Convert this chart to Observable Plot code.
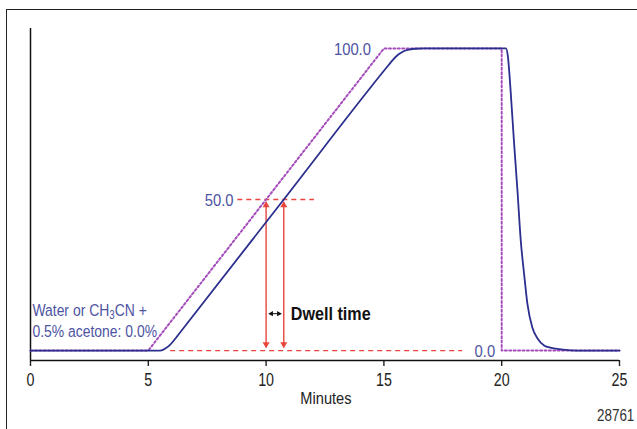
<!DOCTYPE html>
<html>
<head>
<meta charset="utf-8">
<script src="https://cdn.jsdelivr.net/npm/d3@7"></script>
<script src="https://cdn.jsdelivr.net/npm/@observablehq/plot@0.6"></script>
<style>
  html, body { margin: 0; padding: 0; background: #fff; }
  #wrap { position: relative; width: 637px; height: 429px; overflow: hidden; }
  #frame { position: absolute; left: 6px; top: 9px; width: 700px; height: 500px;
           border-left: 1.6px solid #222; border-top: 1.6px solid #222; box-sizing: border-box; }
  #chart { position: absolute; left: 0; top: 0; }
</style>
</head>
<body>
<div id="wrap"><div id="frame"></div><div id="chart"></div></div>
<script>
// ---- data ----
// programmed gradient (dotted)
const programTime  = [0, 5, 15, 20, 20, 25];
const programValue = [0, 0, 100, 100, 0, 0];
// measured response (solid)
const responseTime  = [0, 5.5, 5.62, 5.75, 5.9, 6.05, 6.2, 10.75, 15.2, 15.4, 15.6, 15.8, 16.0, 16.3, 16.7, 20.18, 20.26, 20.38, 20.52, 20.67, 20.81, 20.95, 21.09, 21.3, 21.52, 21.8, 22.1, 22.6, 23.2, 25];
const responseValue = [0, 0, 0.2, 0.8, 1.7, 3.0, 4.5, 50, 94.5, 96.4, 97.9, 98.9, 99.5, 99.9, 100, 100, 97.5, 85.8, 69.3, 52.8, 36.3, 25.4, 15.5, 7.6, 4.0, 1.7, 0.9, 0.3, 0, 0];
// x ticks
const xTicks = [0, 5, 10, 15, 20, 25];
// level labels
const levelLabels = ["100.0", "50.0", "0.0"];
const levelValues = [100, 50, 0];
const levelLabelTime = [14.45, 8.62, 19.72];
// red dashed reference lines
const dashLevels = [50, 0];
const dashStart  = [8.8, 5.95];
const dashEnd    = [12.05, 18.35];
// dwell markers (times at 50%)
const dwellTimes = [10, 10.75];
const dwellFrom = 1.1, dwellTo = 49.1;
// small double arrow
const dwellArrowFrom = 10.14, dwellArrowTo = 10.62, dwellArrowLevel = 12.2;
const startLabel = "Water or CH3CN +\n0.5% acetone: 0.0%";
const dwellLabel = "Dwell time";
const xLabel = "Minutes";
const figId = "28761";

// ---- build tables ----
const program  = programTime.map((t, i) => ({t, v: programValue[i]}));
const response = responseTime.map((t, i) => ({t, v: responseValue[i]}));
const levels   = levelLabels.map((label, i) => ({label, v: levelValues[i], t: levelLabelTime[i]}));
const dashes   = dashLevels.map((v, i) => ({v, x1: dashStart[i], x2: dashEnd[i]}));
const dwell    = dwellTimes.map(t => ({t, y1: dwellFrom, y2: dwellTo}));
const dwellHeads = dwellTimes.flatMap(t => [{t, v: dwellTo, rot: 0, dy: 3}, {t, v: dwellFrom, rot: 180, dy: -3}]);
const smallHeads = [{t: dwellArrowFrom, v: dwellArrowLevel, rot: -90, dx: 2}, {t: dwellArrowTo, v: dwellArrowLevel, rot: 90, dx: -2}];

const FONT = "'Liberation Sans Narrow', 'Arial Narrow', 'Liberation Sans', Arial, sans-serif";
const NAVY = "#2b2f8e", PURPLE = "#a44cba", RED = "#e8453c", LABEL = "#4d53a3";
const yMin = -3.3, yMax = 106.6;

const chart = Plot.plot({
  width: 637, height: 429,
  marginLeft: 30, marginRight: 18, marginTop: 28, marginBottom: 69,
  style: {fontFamily: FONT, background: "transparent", overflow: "visible"},
  x: {domain: [0, 25]},
  y: {domain: [yMin, yMax], axis: null},
  marks: [
    Plot.axisX({ticks: xTicks, tickSize: 6, tickPadding: 6, label: null, fontSize: 19, color: "#222", strokeWidth: 1.4, className: "cx-tick"}),
    Plot.ruleY([yMin], {stroke: "#111", strokeWidth: 1.5}),
    Plot.ruleX([0], {y1: yMin, y2: yMax, stroke: "#111", strokeWidth: 1.5}),
    // red dashed levels
    Plot.ruleY(dashes, {y: "v", x1: "x1", x2: "x2", stroke: RED, strokeWidth: 1.3, strokeDasharray: "5,4"}),
    // dwell arrows
    Plot.link(dwell, {x1: "t", x2: "t", y1: "y1", y2: "y2", stroke: RED, strokeWidth: 1.4}),
    Plot.dot(dwellHeads.filter(d => d.rot === 0), {x: "t", y: "v", symbol: "triangle", rotate: "rot", r: 2.6, fill: RED, stroke: "none", dy: 3}),
    Plot.dot(dwellHeads.filter(d => d.rot === 180), {x: "t", y: "v", symbol: "triangle", rotate: "rot", r: 2.6, fill: RED, stroke: "none", dy: -3}),
    Plot.link([{a: dwellArrowFrom, b: dwellArrowTo, v: dwellArrowLevel}], {x1: "a", x2: "b", y1: "v", y2: "v", stroke: "#111", strokeWidth: 1}),
    Plot.dot([smallHeads[0]], {x: "t", y: "v", symbol: "triangle", rotate: "rot", r: 2, fill: "#111", stroke: "none", dx: 2}),
    Plot.dot([smallHeads[1]], {x: "t", y: "v", symbol: "triangle", rotate: "rot", r: 2, fill: "#111", stroke: "none", dx: -2}),
    // programmed gradient
    Plot.line(program, {x: "t", y: "v", stroke: PURPLE, strokeWidth: 2, strokeDasharray: "2,2.4"}),
    // measured response
    Plot.line(response, {x: "t", y: "v", stroke: NAVY, strokeWidth: 1.8, curve: "monotone-x"}),
    // labels
    Plot.text(levels, {x: "t", y: "v", text: "label", textAnchor: "end", fill: LABEL, fontSize: 17, dy: 1, className: "cx-level"}),
    Plot.text([startLabel], {x: 0.08, y: 4.6, text: d => d, textAnchor: "start", lineAnchor: "bottom", lineHeight: 1.24, fill: LABEL, fontSize: 17, className: "cx-start"}),
    Plot.text([dwellLabel], {x: 11.05, y: 12.2, text: d => d, textAnchor: "start", fill: "#111", fontSize: 19, fontWeight: "bold", className: "cx-dwell"}),
    Plot.text([xLabel], {x: 12.54, y: -15.8, text: d => d, fill: "#222", fontSize: 17, className: "cx-xlabel"}),
    Plot.text([figId], {x: 25.63, y: -21.6, text: d => d, textAnchor: "end", fill: "#333", fontSize: 16, className: "cx-id"})
  ]
});
document.getElementById("chart").appendChild(chart);

// subscript the "3" in CH3CN
const NS = "http://www.w3.org/2000/svg";
chart.querySelectorAll("tspan, text").forEach(el => {
  if (el.childElementCount === 0 && el.textContent === "Water or CH3CN +") {
    el.textContent = "Water or CH";
    const sub = document.createElementNS(NS, "tspan");
    sub.setAttribute("dy", "3"); sub.setAttribute("font-size", "12"); sub.textContent = "3";
    const rest = document.createElementNS(NS, "tspan");
    rest.setAttribute("dy", "-3"); rest.textContent = "CN +";
    el.appendChild(sub); el.appendChild(rest);
  }
});

// condensed type: squeeze glyphs horizontally around each text's anchor
const squeeze = {"cx-tick": 0.75, "cx-level": 0.87, "cx-start": 0.82, "cx-dwell": 0.85, "cx-xlabel": 0.86, "cx-id": 0.84};
for (const [cls, s] of Object.entries(squeeze)) {
  chart.querySelectorAll(`g[aria-label][class~="${cls}"] text, g.${cls} text`).forEach(el => {
    const x = +el.getAttribute("x") || 0, y = +el.getAttribute("y") || 0;
    const t = el.getAttribute("transform") || "";
    el.setAttribute("transform", `${t} translate(${x},${y}) scale(${s},1) translate(${-x},${-y})`);
  });
}
</script>
</body>
</html>
